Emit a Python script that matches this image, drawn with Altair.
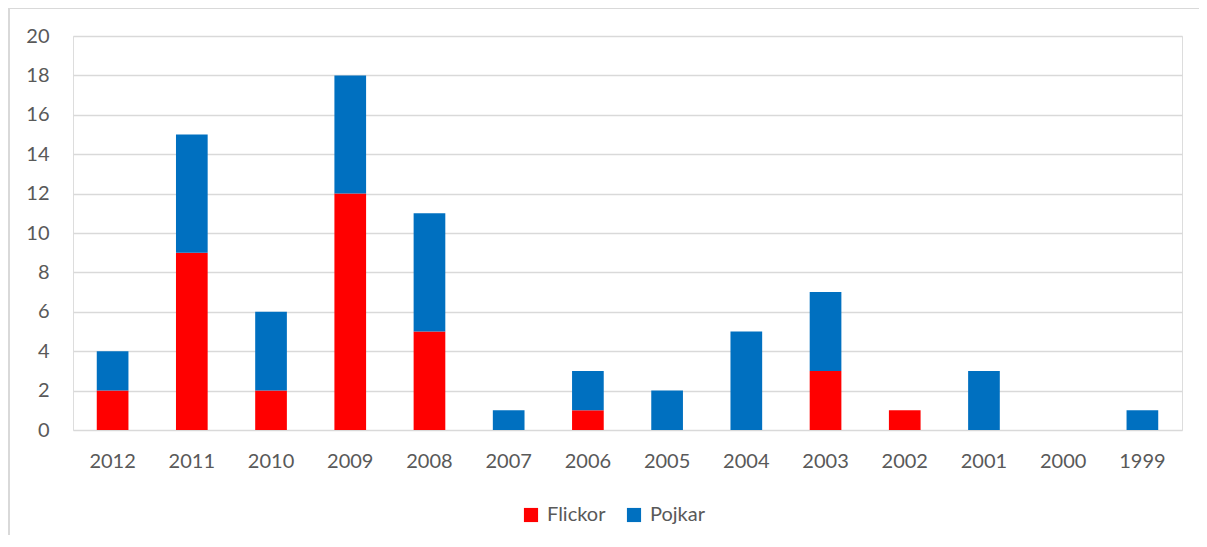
import altair as alt
import pandas as pd

years = ["2012", "2011", "2010", "2009", "2008", "2007", "2006", "2005",
         "2004", "2003", "2002", "2001", "2000", "1999"]
flickor = [2, 9, 2, 12, 5, 0, 1, 0, 0, 3, 1, 0, 0, 0]
pojkar = [2, 6, 4, 6, 6, 1, 2, 2, 5, 4, 0, 3, 0, 1]
series = ["Flickor", "Pojkar"]
colors = ["#FF0000", "#0070C0"]

rows = []
for y, f, p in zip(years, flickor, pojkar):
    rows.append({"year": y, "kon": "Flickor", "ord": 0, "value": f})
    rows.append({"year": y, "kon": "Pojkar", "ord": 1, "value": p})
df = pd.DataFrame(rows)

FONT = "Lato"
W, H = 1109, 394

bars = alt.Chart(df).mark_bar().encode(
    x=alt.X("year:N", sort=years, title=None,
            scale=alt.Scale(paddingInner=0.6, paddingOuter=0.3),
            axis=alt.Axis(labelAngle=0, labelPadding=21, ticks=False, domain=False,
                          labelFontSize=20, labelColor="#595959", labelFont=FONT)),
    y=alt.Y("value:Q", title=None, stack="zero",
            scale=alt.Scale(domain=[0, 20], nice=False),
            axis=alt.Axis(values=list(range(0, 21, 2)), ticks=False, domain=False,
                          labelPadding=24, labelFontSize=20, labelColor="#595959",
                          labelFont=FONT, gridColor="#D9D9D9", gridWidth=1.5)),
    color=alt.Color("kon:N", title=None,
                    scale=alt.Scale(domain=series, range=colors),
                    legend=alt.Legend(orient="none", direction="horizontal",
                                      legendX=448, legendY=469,
                                      symbolType="square", symbolSize=200,
                                      symbolStrokeWidth=0, labelFontSize=20,
                                      labelColor="#595959", labelFont=FONT,
                                      columnPadding=18, labelOffset=6)),
    order=alt.Order("ord:Q", sort="ascending"),
)

border_top = alt.Chart(df).mark_rule(color="#D9D9D9", strokeWidth=1.5).encode(
    x=alt.value(-64), x2=alt.value(W + 17), y=alt.value(-28))
border_left = alt.Chart(df).mark_rule(color="#D9D9D9", strokeWidth=1.5).encode(
    x=alt.value(-64), y=alt.value(-28), y2=alt.value(H + 110))

chart = alt.layer(border_top, border_left, bars).properties(
    width=W, height=H,
    autosize=alt.AutoSizeParams(type="none"),
    padding={"left": 65, "top": 28, "right": 17, "bottom": 105},
).configure_view(stroke=None).configure(background="white")

chart.save("out.html", embed_options={"renderer": "svg", "actions": False})
